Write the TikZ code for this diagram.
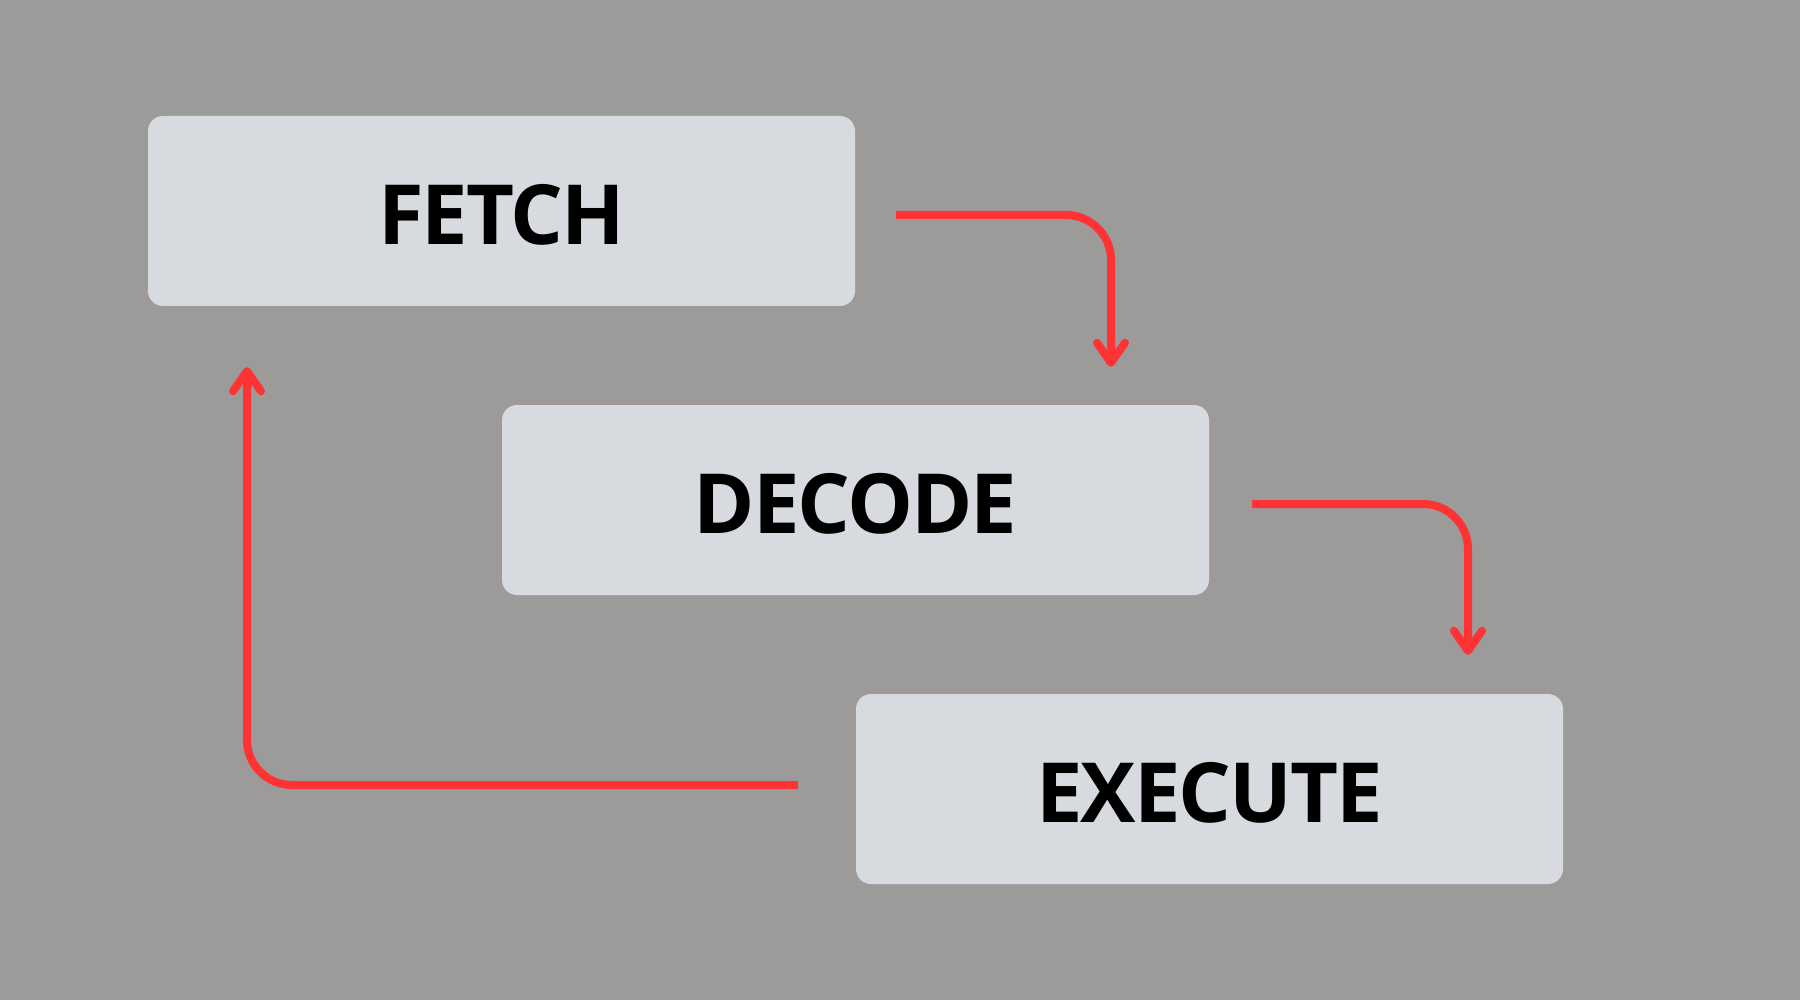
\documentclass[tikz,border=0pt]{standalone}
\usepackage{fontspec}
\setmainfont{Open Sans}[LetterSpace=-2.4]
\usetikzlibrary{arrows.meta,calc}
\definecolor{bgcol}{HTML}{9C9B99}
\definecolor{boxcol}{HTML}{D7DADF}
\definecolor{redcol}{HTML}{FF3333}
\newcommand{\stagelabel}[1]{\raisebox{-3.5pt}[\height][\depth]{#1}}
\tikzset{
  stagebox/.style={fill=boxcol, rounded corners=15pt, minimum width=707pt, minimum height=190pt, inner sep=0pt,
    font=\fontsize{83}{90}\selectfont\bfseries, text=black},
  conn/.style={draw=redcol, line width=8pt, rounded corners=45pt,
    -{Straight Barb[length=20pt,width=28pt,round]}}
}
\begin{document}
\begin{tikzpicture}[x=1pt,y=-1pt]
\fill[bgcol] (0,0) rectangle (1800,1000);
\useasboundingbox (0,0) rectangle (1800,1000);
\node[stagebox] (fetch) at (501.5,211) {\stagelabel{FETCH}};
\node[stagebox] (decode) at (855.5,500) {\stagelabel{DECODE}};
\node[stagebox] (execute) at (1209.5,789) {\stagelabel{EXECUTE}};
\coordinate (a1s) at ($(fetch.east)+(41,4)$);
\coordinate (a1e) at ($(decode.north)+(255.5,-38)$);
\coordinate (a2s) at ($(decode.east)+(43,4)$);
\coordinate (a2e) at ($(execute.north)+(258.5,-39)$);
\coordinate (a3s) at ($(execute.west)+(-58,-4)$);
\coordinate (a3e) at ($(fetch.south)+(-254.5,61)$);
\draw[conn] (a1s) -| (a1e);
\draw[conn] (a2s) -| (a2e);
\draw[conn] (a3s) -| (a3e);
\end{tikzpicture}
\end{document}
